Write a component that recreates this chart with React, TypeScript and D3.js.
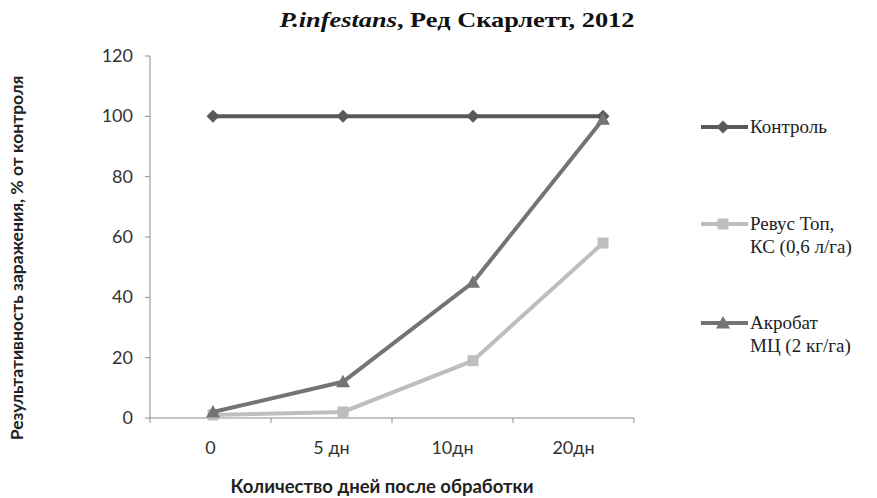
import React from "react";
import * as d3 from "d3";

const categories = ["0", "5 дн", "10дн", "20дн"];
const control = [100, 100, 100, 100];
const revus = [1, 2, 19, 58];
const acrobat = [2, 12, 45, 99];
const yTicks = [0, 20, 40, 60, 80, 100, 120];

const W = 877;
const H = 498;

export default function App() {
  const xAxis = d3.scaleBand<string>().domain(categories).range([150, 634]);
  const xPt = d3.scalePoint<string>().domain(categories).range([213, 603]);
  const y = d3.scaleLinear().domain([0, 120]).range([418, 56]);
  const line = d3
    .line<number>()
    .x((_, i) => xPt(categories[i]) as number)
    .y((d) => y(d));

  const series = [
    { name: ["Контроль"], values: control, color: "#595959", marker: "diamond", ly: 127 },
    { name: ["Ревус Топ,", "КС (0,6 л/га)"], values: revus, color: "#bebebe", marker: "square", ly: 224 },
    { name: ["Акробат", "МЦ (2 кг/га)"], values: acrobat, color: "#747474", marker: "triangle", ly: 323 },
  ];

  const markerPath = (m: string) => {
    if (m === "diamond") return "M0,-6.5L6.5,0L0,6.5L-6.5,0Z";
    if (m === "square") return "M-5.5,-5.5L5.5,-5.5L5.5,5.5L-5.5,5.5Z";
    return "M0,-7L7,5.5L-7,5.5Z";
  };

  const tickX = categories.map((c) => xAxis(c) as number).concat([634]);

  return (
    <svg width={W} height={H} style={{ position: "absolute", left: 0, top: 0, background: "#fff" }}>
      <text x={457} y={27} textAnchor="middle" fontFamily="Liberation Serif" fontWeight="bold" fontSize={22}
        textLength={355} lengthAdjust="spacingAndGlyphs" fill="#111">
        <tspan fontStyle="italic">P.infestans</tspan>, Ред Скарлетт, 2012
      </text>
      {/* y axis */}
      <line x1={150} x2={150} y1={56} y2={418} stroke="#8c8c8c" strokeWidth={1} />
      {yTicks.map((t) => (
        <g key={t}>
          <line x1={145} x2={150} y1={y(t)} y2={y(t)} stroke="#8c8c8c" />
          <text x={133} y={y(t) + 6} textAnchor="end" fontFamily="Lato" fontSize={18} fill="#333">
            {t}
          </text>
        </g>
      ))}
      {/* x axis */}
      <line x1={150} x2={634} y1={418} y2={418} stroke="#8c8c8c" />
      {tickX.map((t, i) => (
        <line key={i} x1={t} x2={t} y1={418} y2={423} stroke="#8c8c8c" />
      ))}
      {categories.map((c) => (
        <text key={c} x={(xAxis(c) as number) + xAxis.bandwidth() / 2} y={454} textAnchor="middle"
          fontFamily="Lato" fontSize={18} fill="#333">
          {c}
        </text>
      ))}
      <text x={382} y={493} textAnchor="middle" fontFamily="Lato" fontWeight="bold" fontSize={18.5} fill="#222">
        Количество дней после обработки
      </text>
      <text
        transform={`translate(23,258) rotate(-90)`}
        textAnchor="middle"
        fontFamily="Lato"
        fontWeight="bold"
        fontSize={17.5}
        fill="#222"
      >
        Результативность заражения, % от контроля
      </text>
      {series.map((s) => (
        <g key={s.name[0]}>
          <path d={line(s.values) || ""} fill="none" stroke={s.color} strokeWidth={4} />
          {s.values.map((v, i) => (
            <path key={i} d={markerPath(s.marker)}
              transform={`translate(${xPt(categories[i])},${y(v)})`} fill={s.color} />
          ))}
        </g>
      ))}
      {/* legend */}
      {series.map((s) => (
        <g key={"l" + s.name[0]}>
          <line x1={701} x2={748} y1={s.ly} y2={s.ly} stroke={s.color} strokeWidth={4} />
          <path d={markerPath(s.marker)} transform={`translate(723,${s.ly})`} fill={s.color} />
          {s.name.map((n, j) => (
            <text key={j} x={750} y={s.ly + 6 + j * 23} fontFamily="Liberation Serif" fontSize={19} fill="#222">
              {n}
            </text>
          ))}
        </g>
      ))}
    </svg>
  );
}
